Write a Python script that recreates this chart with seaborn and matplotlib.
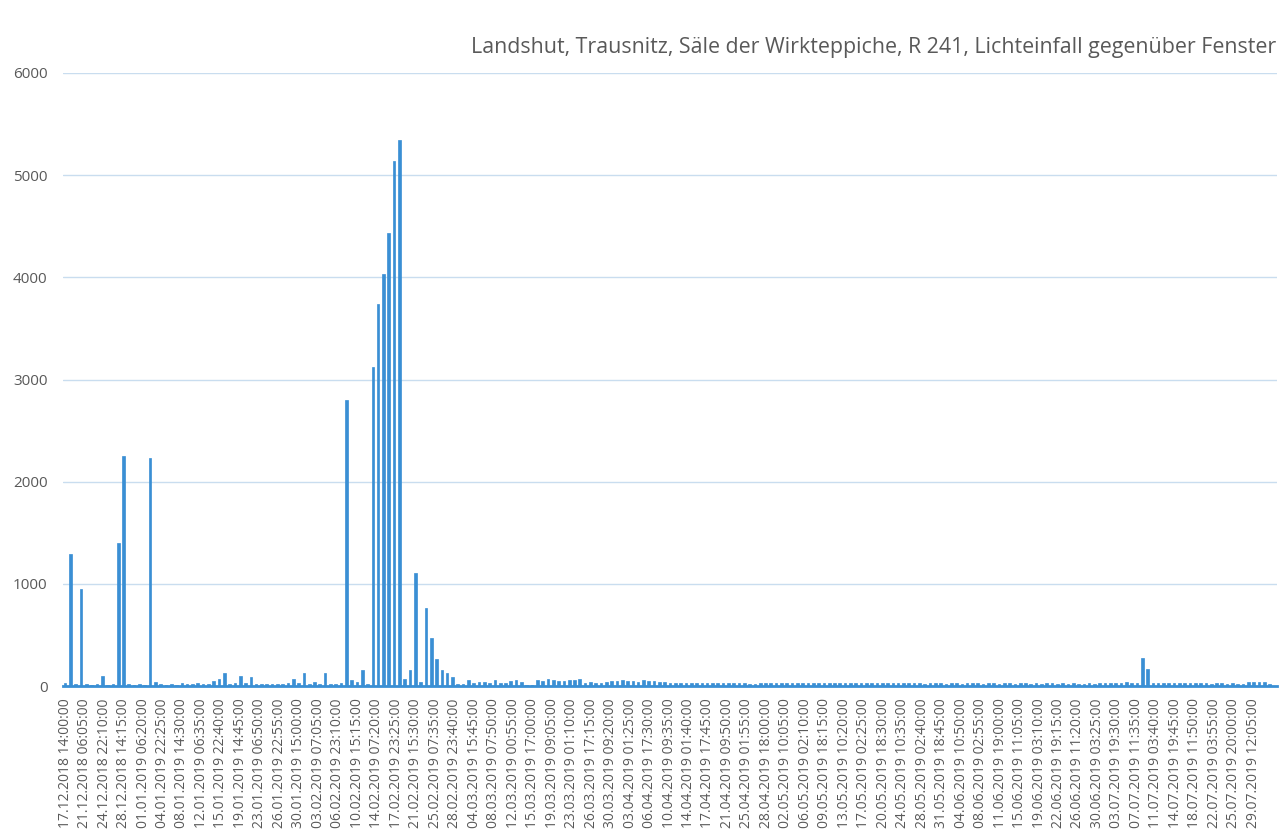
import matplotlib
matplotlib.use("Agg")
import matplotlib.pyplot as plt
import numpy as np
import pandas as pd
import seaborn as sns

TITLE = "Landshut, Trausnitz, Säle der Wirkteppiche, R 241, Lichteinfall gegenüber Fenster"

# daily maximum of illuminance, one value per day starting 17.12.2018 14:00
lux = [
    30, 1295, 15, 950, 15, 12, 15, 95, 12, 15, 1395, 2250, 15, 12, 15, 12, 2235, 38, 15, 12,
    15, 12, 25, 20, 15, 30, 15, 15, 50, 65, 130, 15, 33, 100, 33, 90, 15, 15, 15, 15,
    15, 18, 33, 65, 26, 130, 20, 43, 15, 130, 15, 15, 33, 2800, 56, 40, 155, 15, 3120, 3735,
    4030, 4435, 5135, 5345, 64, 155, 1110, 42, 760, 470, 268, 153, 126, 86, 17, 16, 56, 33, 40, 40,
    26, 56, 33, 33, 49, 59, 43, 13, 13, 59, 46, 66, 62, 52, 52, 56, 56, 66, 33, 40,
    30, 30, 43, 46, 46, 59, 49, 46, 43, 59, 49, 46, 43, 40, 33, 26, 26, 33, 33,
    33, 30, 33, 30, 28, 33, 30, 28, 30, 26, 20, 18,
    26, 30, 28, 30, 33, 30, 28, 26, 30, 30, 28, 26, 30, 28, 26, 30, 28, 26, 28, 26,
    30, 28, 26, 28, 30, 26, 28, 26, 26, 28, 26, 24, 26, 28, 26, 24, 26, 26, 24, 26, 28, 26, 24, 26, 26,
    24, 26, 26, 24, 26, 26, 24, 26, 24, 26, 26, 24, 26, 24, 26, 24, 24, 26, 24, 26, 28, 26, 30, 33, 36, 30, 33,
    277, 165,
    30, 28, 26, 28, 26, 26, 28, 26, 26, 28, 26, 24, 26, 26, 24, 26, 24, 24, 36, 40, 36, 38, 20,
]

tick_labels = [
    "17.12.2018 14:00:00", "21.12.2018 06:05:00", "24.12.2018 22:10:00", "28.12.2018 14:15:00",
    "01.01.2019 06:20:00", "04.01.2019 22:25:00", "08.01.2019 14:30:00", "12.01.2019 06:35:00",
    "15.01.2019 22:40:00", "19.01.2019 14:45:00", "23.01.2019 06:50:00", "26.01.2019 22:55:00",
    "30.01.2019 15:00:00", "03.02.2019 07:05:00", "06.02.2019 23:10:00", "10.02.2019 15:15:00",
    "14.02.2019 07:20:00", "17.02.2019 23:25:00", "21.02.2019 15:30:00", "25.02.2019 07:35:00",
    "28.02.2019 23:40:00", "04.03.2019 15:45:00", "08.03.2019 07:50:00", "12.03.2019 00:55:00",
    "15.03.2019 17:00:00", "19.03.2019 09:05:00", "23.03.2019 01:10:00", "26.03.2019 17:15:00",
    "30.03.2019 09:20:00", "03.04.2019 01:25:00", "06.04.2019 17:30:00", "10.04.2019 09:35:00",
    "14.04.2019 01:40:00", "17.04.2019 17:45:00", "21.04.2019 09:50:00", "25.04.2019 01:55:00",
    "28.04.2019 18:00:00", "02.05.2019 10:05:00", "06.05.2019 02:10:00", "09.05.2019 18:15:00",
    "13.05.2019 10:20:00", "17.05.2019 02:25:00", "20.05.2019 18:30:00", "24.05.2019 10:35:00",
    "28.05.2019 02:40:00", "31.05.2019 18:45:00", "04.06.2019 10:50:00", "08.06.2019 02:55:00",
    "11.06.2019 19:00:00", "15.06.2019 11:05:00", "19.06.2019 03:10:00", "22.06.2019 19:15:00",
    "26.06.2019 11:20:00", "30.06.2019 03:25:00", "03.07.2019 19:30:00", "07.07.2019 11:35:00",
    "11.07.2019 03:40:00", "14.07.2019 19:45:00", "18.07.2019 11:50:00", "22.07.2019 03:55:00",
    "25.07.2019 20:00:00", "29.07.2019 12:05:00",
]

y_ticks = [0, 1000, 2000, 3000, 4000, 5000, 6000]

BAR = "#3a8fd4"
GRID = "#c9ddef"
TXT = "#595959"


def main():
    sns.set_style("white")
    plt.rcParams["font.family"] = ["Open Sans", "DejaVu Sans"]

    df = pd.DataFrame({"day": np.arange(len(lux)), "lux": lux})

    # tick positions in days relative to the first label
    t = pd.to_datetime(pd.Series(tick_labels), format="%d.%m.%Y %H:%M:%S")
    tick_pos = ((t - t.iloc[0]) / pd.Timedelta(days=1)).values

    fig = plt.figure(figsize=(12.87, 8.34), dpi=100)
    ax = fig.add_axes([63 / 1287, 1 - 686 / 834, (1277 - 63) / 1287, (686 - 73) / 834])

    sns.barplot(data=df, x="day", y="lux", native_scale=True, color=BAR,
                width=0.5, errorbar=None, saturation=1, ax=ax, zorder=3,
                edgecolor=BAR, linewidth=0.5)

    ax.set_xlim(-0.4, 228.4)
    ax.set_ylim(0, 6000)
    ax.set_yticks(y_ticks)
    ax.set_yticklabels([str(v) for v in y_ticks])
    ax.set_xticks(tick_pos)
    ax.set_xticklabels(tick_labels, rotation=90, va="top", ha="center")
    ax.set_xlabel("")
    ax.set_ylabel("")

    ax.yaxis.grid(True, color=GRID, linewidth=1)
    ax.xaxis.grid(False)
    ax.set_axisbelow(True)
    for s in ["top", "right", "left"]:
        ax.spines[s].set_visible(False)
    ax.spines["bottom"].set_color(BAR)
    ax.spines["bottom"].set_linewidth(2)
    ax.tick_params(axis="y", length=0, pad=11, labelsize=11, labelcolor=TXT)
    ax.tick_params(axis="x", length=0, pad=9, labelsize=10, labelcolor=TXT)

    fig.text(1276 / 1287, 1 - 47 / 834, TITLE, ha="right", va="center",
             fontsize=15.4, color=TXT)

    fig.savefig("out.png", dpi=100, facecolor="white")
    plt.close(fig)


if __name__ == "__main__":
    main()
